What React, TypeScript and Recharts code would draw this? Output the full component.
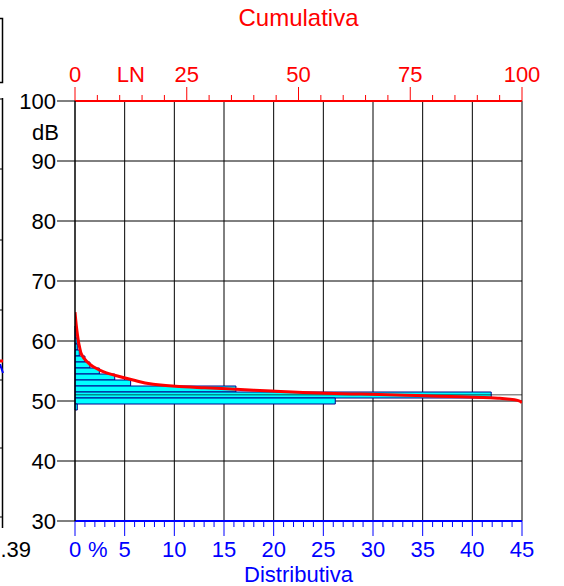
import React from 'react';
import { ComposedChart, Line, XAxis, YAxis, ReferenceLine, ReferenceArea } from 'recharts';

const FONT = '"Liberation Sans", Arial, sans-serif';

// Distribution (percent of time at each dB level)
const levels = [62, 61, 60, 59, 58, 57, 56, 55, 54, 53, 52, 51, 50, 49];
const distribution = [0.05, 0.1, 0.2, 0.23, 0.43, 1.0, 1.5, 2.45, 4.0, 5.6, 16.2, 41.9, 26.2, 0.23];

// Cumulative curve (percent exceeded vs dB)
const curveCum = [0, 0.5, 1.0, 1.5, 2.6, 4.1, 6.3, 9.3, 13.0, 17.5, 22.5, 29, 36, 44, 51, 58, 64, 70, 76.4, 84, 91.3, 95, 97.3, 99, 100];
const curveDb = [64.8, 61.3, 59.05, 57.7, 56.6, 55.7, 54.9, 54.2, 53.5, 52.8, 52.45, 52.2, 51.95, 51.65, 51.4, 51.25, 51.15, 51.05, 50.9, 50.75, 50.6, 50.45, 50.3, 50.1, 49.7];

const dbTicks = [30, 40, 50, 60, 70, 80, 90, 100];
const distMajor = [0, 5, 10, 15, 20, 25, 30, 35, 40, 45];
const cumMajor = [0, 25, 50, 75, 100];
const gridDist = [5, 10, 15, 20, 25, 30, 35, 40, 45];
const gridDb = [40, 50, 60, 70, 80, 90];
const lnLevel = 51.05;
const lnPos = 12.5;
const pctPos = 2.3;
const binWidth = 1; // dB per class

const distTicks = [...Array.from({ length: 46 }, (_, i) => i), pctPos];
const cumTicks = [...Array.from({ length: 21 }, (_, i) => i * 5), lnPos];

const barData = levels.map((db, i) => ({ db, dist: distribution[i] }));
const curveData = curveCum.map((c, i) => ({ cum: c, db: curveDb[i] }));

const DbTick = (p: any) => {
  const { x, y, payload } = p;
  return (
    <g>
      <line x1={x - 18} x2={x} y1={y} y2={y} stroke="#000" strokeWidth={1} />
      <text x={x - 19} y={y} dy="0.36em" textAnchor="end" fontSize={22} fill="#000" fontFamily={FONT}>
        {payload.value}
      </text>
    </g>
  );
};

const CumTick = (p: any) => {
  const { x, y, payload } = p;
  const v = payload.value;
  if (v === lnPos) {
    return (
      <text x={x} y={y - 19} textAnchor="middle" fontSize={22} fill="#ff0000" fontFamily={FONT}>LN</text>
    );
  }
  const major = cumMajor.includes(v);
  return (
    <g>
      <line x1={x} x2={x} y1={y} y2={y - (major ? 14 : 6)} stroke="#ff0000" strokeWidth={1} />
      {major && (
        <text x={x} y={y - 19} textAnchor="middle" fontSize={22} fill="#ff0000" fontFamily={FONT}>
          {v}
        </text>
      )}
    </g>
  );
};

const DistTick = (p: any) => {
  const { x, y, payload } = p;
  const v = payload.value;
  if (v === pctPos) {
    return (
      <text x={x} y={y + 36} textAnchor="middle" fontSize={22} fill="#0000ff" fontFamily={FONT}>%</text>
    );
  }
  const major = distMajor.includes(v);
  return (
    <g>
      <line x1={x} x2={x} y1={y} y2={y + (major ? 15 : 6)} stroke="#0000ff" strokeWidth={1} />
      {major && (
        <text x={x} y={y + 36} textAnchor="middle" fontSize={22} fill="#0000ff" fontFamily={FONT}>
          {v}
        </text>
      )}
    </g>
  );
};

const CumLabel = (p: any) => {
  const vb = p.viewBox;
  return (
    <text x={vb.x + vb.width / 2} y={vb.y + vb.height - 75} textAnchor="middle" fontSize={24} fill="#ff0000" fontFamily={FONT}>
      Cumulativa
    </text>
  );
};

const DistLabel = (p: any) => {
  const vb = p.viewBox;
  return (
    <text x={vb.x + vb.width / 2} y={vb.y + 61} textAnchor="middle" fontSize={22} fill="#0000ff" fontFamily={FONT}>
      Distributiva
    </text>
  );
};

const DbLabel = (p: any) => {
  const vb = p.viewBox;
  return (
    <text x={vb.x + vb.width - 16} y={vb.y + 39} textAnchor="end" fontSize={22} fill="#000" fontFamily={FONT}>
      dB
    </text>
  );
};

const LeftFragment = () => (
  <svg width={40} height={586} style={{ position: 'absolute', left: 0, top: 0 }}>
    <polyline points="0,18.5 2.5,18.5 2.5,82.5 0,82.5" fill="none" stroke="#000" strokeWidth={1.5} />
    <line x1={2.5} x2={2.5} y1={98} y2={528} stroke="#000" strokeWidth={1.5} />
    {[99, 169, 240, 310, 380, 448, 517].map((yy) => (
      <line key={yy} x1={0} x2={2.5} y1={yy} y2={yy} stroke="#000" strokeWidth={1} />
    ))}
    <line x1={0} x2={3} y1={361} y2={361} stroke="#ff0000" strokeWidth={3} />
    <line x1={0} x2={3} y1={364} y2={373} stroke="#0000ff" strokeWidth={2} />
    <text x={0.5} y={557} textAnchor="start" fontSize={22} fill="#000" fontFamily={FONT}>.39</text>
  </svg>
);

export default function App() {
  return (
    <div style={{ position: 'absolute', left: 0, top: 0, width: 564, height: 586, background: '#fff' }}>
      <ComposedChart
        width={564}
        height={586}
        layout="vertical"
        data={barData}
        margin={{ top: 41, right: 42, bottom: 15, left: 15 }}
      >
        <XAxis
          xAxisId="dist"
          type="number"
          orientation="bottom"
          domain={[0, 45]}
          ticks={distTicks}
          interval={0}
          allowDataOverflow
          height={50}
          tickLine={false}
          tickSize={0}
          tickMargin={0}
          axisLine={{ stroke: '#0000ff', strokeWidth: 2 }}
          tick={<DistTick />}
          label={DistLabel}
        />
        <XAxis
          xAxisId="cum"
          type="number"
          orientation="top"
          domain={[0, 100]}
          ticks={cumTicks}
          interval={0}
          allowDataOverflow
          height={60}
          tickLine={false}
          tickSize={0}
          tickMargin={0}
          axisLine={{ stroke: '#ff0000', strokeWidth: 2 }}
          tick={<CumTick />}
          label={CumLabel}
        />
        <YAxis
          yAxisId="db"
          type="number"
          dataKey="db"
          domain={[30, 100]}
          ticks={dbTicks}
          interval={0}
          allowDataOverflow
          reversed
          width={60}
          tickLine={false}
          tickSize={0}
          tickMargin={0}
          axisLine={{ stroke: '#000', strokeWidth: 1.5 }}
          tick={<DbTick />}
          label={DbLabel}
        />
        {gridDist.map((v) => (
          <ReferenceLine key={'gx' + v} xAxisId="dist" yAxisId="db" x={v} stroke="#000" strokeWidth={1} zIndex={-10} />
        ))}
        {gridDb.map((v) => (
          <ReferenceLine key={'gy' + v} xAxisId="dist" yAxisId="db" y={v} stroke="#000" strokeWidth={1} zIndex={-10} />
        ))}
        {barData.map((d) => (
          <ReferenceArea
            key={'bar' + d.db}
            xAxisId="dist"
            yAxisId="db"
            x1={0}
            x2={d.dist}
            y1={d.db - binWidth / 2}
            y2={d.db + binWidth / 2}
            fill="#00ffff"
            fillOpacity={1}
            stroke="#00008c"
            strokeWidth={1}
            ifOverflow="visible"
          />
        ))}
        <ReferenceLine xAxisId="dist" yAxisId="db" y={lnLevel} stroke="#000" strokeOpacity={0.45} strokeWidth={1.5} />
        <Line
          xAxisId="cum"
          yAxisId="db"
          data={curveData}
          dataKey="cum"
          type="monotone"
          stroke="#ff0000"
          strokeWidth={3}
          dot={false}
          isAnimationActive={false}
        />
      </ComposedChart>
      <LeftFragment />
    </div>
  );
}
